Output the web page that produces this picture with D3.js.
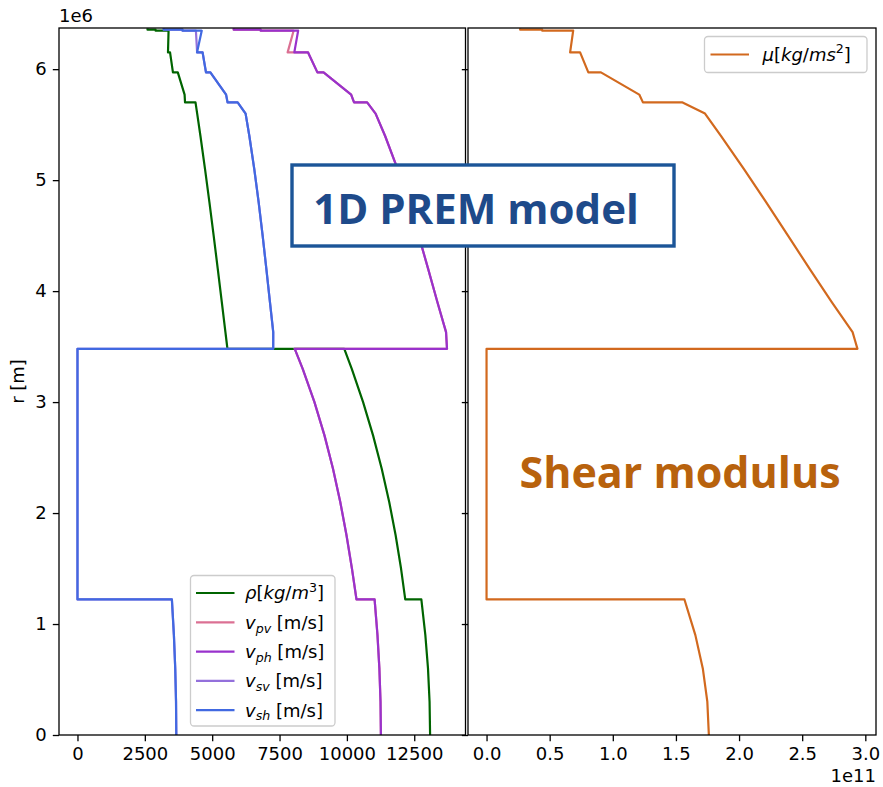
<!DOCTYPE html>
<html>
<head>
<meta charset="utf-8">
<script src="https://cdn.jsdelivr.net/npm/d3@7"></script>
<style>
  body { margin: 0; background: #ffffff; }
  svg { display: block; }
</style>
</head>
<body>
<svg id="chart" width="883" height="787" font-family="DejaVu Sans, sans-serif"></svg>
<script>
// PREM radial profile, sampled at layer boundaries and inside the smooth layers.
// Radius in metres, densities in kg/m^3, velocities in m/s, shear modulus in Pa.
const radius = [0, 300000, 600000, 900000, 1221500,
  1221500, 1500000, 1800000, 2100000, 2400000, 2700000, 3000000, 3300000, 3480000,
  3480000, 3555000, 3630000, 3900000, 4200000, 4500000, 4800000, 5100000, 5400000, 5600000, 5701000,
  5701000, 5771000, 5971000, 5971000, 6151000, 6151000, 6346600, 6346600, 6356000, 6356000, 6368000];

const rho = [13088.5, 13068.9, 13010.1, 12912.1, 12763.6,
  12166.3, 12009.9, 11809.0, 11571.2, 11293.0, 10970.9, 10601.5, 10181.4, 9903.4,
  5566.4, 5528.9, 5491.5, 5357.1, 5207.2, 5054.7, 4897.9, 4734.6, 4563.0, 4443.2, 4380.7,
  3992.1, 3975.8, 3723.8, 3543.3, 3435.8, 3359.5, 3380.8, 2900, 2900, 2600, 2600];

const vpv = [11262.2, 11248.1, 11205.8, 11135.2, 11028.3,
  10355.7, 10187.5, 9985.6, 9754.0, 9484.1, 9167.5, 8795.8, 8360.2, 8064.8,
  13716.6, 13698.3, 13680.4, 13360.8, 13015.8, 12665.5, 12293.2, 11882.0, 11415.6, 11065.5, 10751.3,
  10266.2, 10157.8, 9133.9, 8905.2, 8558.9, 7800.5, 8022.1, 6800, 6800, 5800, 5800];

const vph = [11262.2, 11248.1, 11205.8, 11135.2, 11028.3,
  10355.7, 10187.5, 9985.6, 9754.0, 9484.1, 9167.5, 8795.8, 8360.2, 8064.8,
  13716.6, 13698.3, 13680.4, 13360.8, 13015.8, 12665.5, 12293.2, 11882.0, 11415.6, 11065.5, 10751.3,
  10266.2, 10157.8, 9133.9, 8905.2, 8558.9, 8048.6, 8190.3, 6800, 6800, 5800, 5800];

const vsv = [3667.8, 3657.9, 3628.4, 3579.0, 3504.3,
  0, 0, 0, 0, 0, 0, 0, 0, 0,
  7264.7, 7265.4, 7266.0, 7144.2, 7010.5, 6872.8, 6725.4, 6562.4, 6378.3, 6240.4, 5945.1,
  5570.2, 5516.0, 4932.5, 4769.9, 4643.9, 4441.1, 4396.0, 3900, 3900, 3200, 3200];

const vsh = [3667.8, 3657.9, 3628.4, 3579.0, 3504.3,
  0, 0, 0, 0, 0, 0, 0, 0, 0,
  7264.7, 7265.4, 7266.0, 7144.2, 7010.5, 6872.8, 6725.4, 6562.4, 6378.3, 6240.4, 5945.1,
  5570.2, 5516.0, 4932.5, 4769.9, 4643.9, 4436.3, 4611.8, 3900, 3900, 3200, 3200];

const mu = [1.76077e11, 1.74864e11, 1.71282e11, 1.65394e11, 1.56739e11,
  0, 0, 0, 0, 0, 0, 0, 0, 0,
  2.93772e11, 2.91849e11, 2.89923e11, 2.73424e11, 2.55919e11, 2.38761e11, 2.21537e11, 2.03896e11, 1.85635e11, 1.73030e11, 1.54832e11,
  1.23863e11, 1.20966e11, 9.0599e10, 8.0617e10, 7.4096e10, 6.619e10, 6.862e10, 4.4109e10, 4.4109e10, 2.6624e10, 2.6624e10];

const velocityTicks = [0, 2500, 5000, 7500, 10000, 12500];
const modulusTicks = [0, 0.5e11, 1.0e11, 1.5e11, 2.0e11, 2.5e11, 3.0e11];
const radiusTicks = [0, 1e6, 2e6, 3e6, 4e6, 5e6, 6e6];

const leftSeries = [
  { key: "rho", values: rho, color: "#006400" },
  { key: "vpv", values: vpv, color: "#db7093", sub: "pv" },
  { key: "vph", values: vph, color: "#9932cc", sub: "ph" },
  { key: "vsv", values: vsv, color: "#9370db", sub: "sv" },
  { key: "vsh", values: vsh, color: "#4169e1", sub: "sh" }
];
const rightSeries = [{ key: "mu", values: mu, color: "#d2691e" }];

const svg = d3.select("#chart");
svg.append("rect").attr("width", 883).attr("height", 787).attr("fill", "#fff");

const FS = 18;              // tick, label and legend font size
const LW = 2.2;             // data line width
const SW = 1.3;             // spine / tick width
const TL = 6.2;             // tick length and label padding
const plotTop = 28, plotBottom = 735;
const leftBox = { x0: 59, x1: 465.5 };
const rightBox = { x0: 468, x1: 876 };

function paddedDomain(arrays) {
  const lo = d3.min(arrays, a => d3.min(a));
  const hi = d3.max(arrays, a => d3.max(a));
  const pad = (hi - lo) * 0.05;
  return [lo - pad, hi + pad];
}

const y = d3.scaleLinear().domain([0, 6371000]).range([plotBottom, plotTop]);
const xL = d3.scaleLinear().domain(paddedDomain(leftSeries.map(s => s.values))).range([leftBox.x0, leftBox.x1]);
const xR = d3.scaleLinear().domain(paddedDomain(rightSeries.map(s => s.values))).range([rightBox.x0, rightBox.x1]);

const defs = svg.append("defs");
[["clipL", leftBox], ["clipR", rightBox]].forEach(([id, b]) => {
  defs.append("clipPath").attr("id", id).append("rect")
    .attr("x", b.x0).attr("y", plotTop).attr("width", b.x1 - b.x0).attr("height", plotBottom - plotTop);
});

function drawLines(series, x, clipId) {
  const g = svg.append("g").attr("clip-path", `url(#${clipId})`);
  series.forEach(s => {
    const line = d3.line().x((d, i) => x(s.values[i])).y(d => y(d));
    g.append("path").datum(radius)
      .attr("d", line)
      .attr("fill", "none")
      .attr("stroke", s.color)
      .attr("stroke-width", LW)
      .attr("stroke-linejoin", "round")
      .attr("stroke-linecap", "butt");
  });
}
drawLines(leftSeries, xL, "clipL");
drawLines(rightSeries, xR, "clipR");

// Axes: bottom axes with D3 axis generators, left radius axis
function styleAxis(g) {
  g.attr("font-family", null).attr("font-size", null);
  g.select(".domain").remove();
  g.selectAll(".tick line").attr("stroke", "#000").attr("stroke-width", SW);
  g.selectAll(".tick text").attr("font-size", FS).attr("fill", "#000");
}
svg.append("g").attr("transform", `translate(0,${plotBottom})`)
  .call(d3.axisBottom(xL).tickValues(velocityTicks).tickFormat(d3.format("d")).tickSize(TL).tickPadding(TL))
  .call(styleAxis);
svg.append("g").attr("transform", `translate(0,${plotBottom})`)
  .call(d3.axisBottom(xR).tickValues(modulusTicks).tickFormat(d => (d / 1e11).toFixed(1)).tickSize(TL).tickPadding(TL))
  .call(styleAxis);
svg.append("g").attr("transform", `translate(${leftBox.x0},0)`)
  .call(d3.axisLeft(y).tickValues(radiusTicks).tickFormat(d => String(d / 1e6)).tickSize(TL).tickPadding(TL))
  .call(styleAxis);
// shared radius axis on the right panel: ticks only
svg.append("g").attr("transform", `translate(${rightBox.x0},0)`)
  .call(d3.axisLeft(y).tickValues(radiusTicks).tickFormat("").tickSize(TL))
  .call(styleAxis);

// Spines
[leftBox, rightBox].forEach(b => {
  svg.append("rect").attr("x", b.x0).attr("y", plotTop).attr("width", b.x1 - b.x0).attr("height", plotBottom - plotTop)
    .attr("fill", "none").attr("stroke", "#000").attr("stroke-width", SW);
});

// Offset texts and axis label
svg.append("text").attr("x", leftBox.x0).attr("y", plotTop - 6).attr("font-size", FS).text("1e6");
svg.append("text").attr("x", rightBox.x1).attr("y", 782).attr("text-anchor", "end").attr("font-size", FS).text("1e11");
svg.append("text").attr("transform", `translate(24,${(plotTop + plotBottom) / 2}) rotate(-90)`)
  .attr("text-anchor", "middle").attr("font-size", FS).text("r [m]");

// Legends
function legendFrame(x0, y0, x1, y1) {
  svg.append("rect").attr("x", x0).attr("y", y0).attr("width", x1 - x0).attr("height", y1 - y0)
    .attr("rx", 3.5).attr("fill", "#fff").attr("fill-opacity", 0.8)
    .attr("stroke", "#cccccc").attr("stroke-width", SW);
}
// math-style label: italic symbols, upright brackets and slash
function unitLabel(t, symbol, unitA, unitB, power) {
  const sup = -0.42 * FS;
  t.append("tspan").attr("font-style", "italic").text(symbol);
  t.append("tspan").text("[");
  t.append("tspan").attr("font-style", "italic").text(unitA);
  t.append("tspan").text("/");
  t.append("tspan").attr("font-style", "italic").text(unitB);
  t.append("tspan").attr("font-size", FS * 0.7).attr("dy", sup).text(power);
  t.append("tspan").attr("dy", -sup).text("]");
}
function legendLabel(g, s) {
  const t = g.append("text").attr("font-size", FS).attr("dy", "0.35em");
  const sub = 0.22 * FS;
  if (s.key === "rho") {
    unitLabel(t, "ρ", "kg", "m", "3");
  } else if (s.key === "mu") {
    unitLabel(t, "μ", "kg", "ms", "2");
  } else {
    t.append("tspan").attr("font-style", "italic").text("v");
    t.append("tspan").attr("font-style", "italic").attr("font-size", FS * 0.7).attr("dy", sub).text(s.sub);
    t.append("tspan").attr("dy", -sub).text(" [m/s]");
  }
  return t;
}

legendFrame(190.5, 575.5, 335, 726);
leftSeries.forEach((s, i) => {
  const yy = 593 + i * 29.3;
  const g = svg.append("g");
  g.append("line").attr("x1", 196).attr("x2", 234.5).attr("y1", yy).attr("y2", yy)
    .attr("stroke", s.color).attr("stroke-width", LW);
  legendLabel(g, s).attr("x", 245).attr("y", yy);
});

legendFrame(704.5, 36.5, 867, 72.5);
rightSeries.forEach(s => {
  const yy = 54.5;
  const g = svg.append("g");
  g.append("line").attr("x1", 710.5).attr("x2", 749).attr("y1", yy).attr("y2", yy)
    .attr("stroke", s.color).attr("stroke-width", LW);
  legendLabel(g, s).attr("x", 762.5).attr("y", yy);
});

// Annotation boxes
svg.append("rect").attr("x", 292).attr("y", 165).attr("width", 382).attr("height", 81)
  .attr("fill", "#fff").attr("stroke", "#1b5598").attr("stroke-width", 3.4);
svg.append("text").attr("x", 476).attr("y", 224).attr("text-anchor", "middle")
  .attr("font-family", "Open Sans, Noto Sans, sans-serif").attr("font-weight", 700)
  .attr("font-size", 42).attr("fill", "#1e4a8a").text("1D PREM model");
svg.append("text").attr("x", 680).attr("y", 488).attr("text-anchor", "middle")
  .attr("font-family", "Open Sans, Noto Sans, sans-serif").attr("font-weight", 700)
  .attr("font-size", 43).attr("fill", "#b8620d").text("Shear modulus");
</script>
</body>
</html>
